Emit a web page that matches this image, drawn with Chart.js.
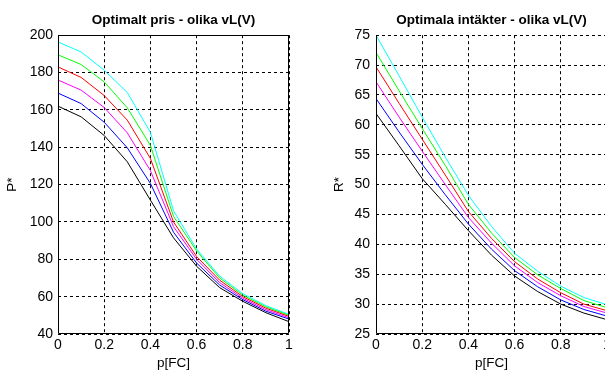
<!DOCTYPE html>
<html>
<head>
<meta charset="utf-8">
<script src="https://cdn.jsdelivr.net/npm/chart.js@4"></script>
<style>
  body { margin: 0; background: #fff; overflow: hidden; width: 605px; height: 371px; position: relative; }
  canvas { position: absolute; top: 0; }
</style>
</head>
<body>
<canvas id="pris" width="300" height="371" style="left:0px"></canvas>
<canvas id="intakt" width="320" height="371" style="left:300px"></canvas>
<script>
// p[FC] values
const pfc = [0, 0.1, 0.2, 0.3, 0.4, 0.5, 0.6, 0.7, 0.8, 0.9, 1.0];

// Optimalt pris P*, one curve per vL(V)
const prisBlack   = [162, 156.3, 146.3, 132.2, 111.7, 91.5, 76.3, 64.8, 57.5, 51.4, 46.6];
const prisBlue    = [169, 163.4, 153.4, 139.7, 120.6, 94.5, 78, 66.2, 58.4, 52.2, 48];
const prisMagenta = [176, 170.6, 161.3, 147.7, 127.5, 97.5, 80, 67.5, 59.2, 53, 48.7];
const prisRed     = [183, 177.4, 167.7, 154.5, 134, 100, 81.5, 68.8, 60, 53.8, 49.4];
const prisGreen   = [189.5, 184.3, 175, 161.1, 141, 103, 84.5, 70, 60.8, 54.5, 50];
const prisCyan    = [196.4, 191, 181.3, 169.3, 148, 106, 85.5, 71, 61.6, 55.2, 50.5];

// Optimala intakter R*
const intBlack   = [61.9, 56.5, 51.0, 46.7, 42.3, 38.2, 34.7, 32.1, 30.0, 28.5, 27.4];
const intBlue    = [64.4, 58.8, 53.4, 48.3, 43.4, 39.2, 35.6, 32.9, 30.7, 29.1, 28.0];
const intMagenta = [67.2, 61.3, 55.6, 50.0, 44.5, 40.2, 36.4, 33.6, 31.4, 29.6, 28.5];
const intRed     = [69.7, 63.6, 57.6, 51.6, 45.5, 41.0, 37.1, 34.2, 31.9, 30.0, 28.9];
const intGreen   = [72.1, 65.7, 59.4, 53.2, 46.7, 41.9, 37.8, 34.9, 32.6, 30.6, 29.4];
const intCyan    = [75.0, 68.2, 61.3, 54.6, 48.2, 43.0, 38.5, 35.5, 33.0, 31.1, 29.9];

const colors = ['#000000', '#0000ff', '#ff00ff', '#ff0000', '#00ff00', '#00ffff'];

const FONT = "'Liberation Sans', Arial, sans-serif";

const toPoints = function (ys) {
    return pfc.map((x, i) => ({x: x, y: ys[i]}));
};

// box round the plot area, like matlab "box on"
const boxPlugin = {
    id: 'box',
    afterDraw(chart, args, opts) {
        const a = chart.chartArea;
        const ctx = chart.ctx;
        const l = Math.round(a.left) + 0.5, r = Math.round(a.right) - 0.5;
        const t = Math.round(a.top) + 0.5, b = Math.round(a.bottom) - 0.5;
        ctx.save();
        ctx.setLineDash([]);
        ctx.strokeStyle = '#000';
        ctx.lineWidth = 1;
        ctx.beginPath();
        ctx.moveTo(l, t - 0.5);
        ctx.lineTo(l, b);
        ctx.lineTo(r, b);
        ctx.lineTo(r, opts.top ? t : t - 0.5);
        if (opts.top) ctx.lineTo(l, t);
        ctx.stroke();
        ctx.restore();
    }
};

const makeChart = function (id, title, ylabel, series, ymin, ymax, ystep, o) {
    new Chart(document.getElementById(id), {
        type: 'line',
        data: {
            datasets: series.map((s, i) => ({
                data: toPoints(s),
                borderColor: colors[i],
                borderWidth: 1,
                pointRadius: 0,
                tension: 0,
                fill: false
            }))
        },
        plugins: [boxPlugin],
        options: {
            responsive: false,
            animation: false,
            devicePixelRatio: 1,
            layout: {padding: {left: 0, right: o.padRight, top: 0, bottom: 0}},
            plugins: {
                legend: {display: false},
                tooltip: {enabled: false},
                box: {top: o.top},
                title: {
                    display: true,
                    text: title,
                    fullSize: false,
                    color: '#000',
                    font: {family: FONT, size: 13.5, weight: 'bold'},
                    padding: {top: 12, bottom: 7}
                }
            },
            scales: {
                x: {
                    type: 'linear',
                    min: 0,
                    max: 1,
                    ticks: {stepSize: 0.2, color: '#000', padding: 3,
                        font: {family: FONT, size: 14},
                        callback: v => String(Number(v.toFixed(2)))},
                    grid: {color: '#000', drawTicks: false, lineWidth: 1},
                    border: {display: false, dash: [3, 3]},
                    title: {display: true, text: 'p[FC]', color: '#000',
                        font: {family: FONT, size: 13.5}, padding: 0},
                    afterFit(scale) {
                        scale.height = 37;
                        scale.paddingLeft = 0;
                        scale.paddingRight = 0;
                    }
                },
                y: {
                    min: ymin,
                    max: ymax,
                    ticks: {stepSize: ystep, color: '#000', padding: o.tickPad,
                        font: {family: FONT, size: 14}},
                    grid: {color: '#000', drawTicks: false, lineWidth: 1},
                    border: {display: false, dash: [3, 3]},
                    title: {display: true, text: ylabel, color: '#000',
                        font: {family: FONT, size: 13.5}, padding: {top: o.titlePad, bottom: 0}},
                    afterFit(scale) {
                        scale.width = o.yWidth;
                        scale.paddingTop = 0;
                        scale.paddingBottom = 0;
                    }
                }
            }
        }
    });
};

makeChart('pris', 'Optimalt pris - olika vL(V)', 'P*',
    [prisBlack, prisBlue, prisMagenta, prisRed, prisGreen, prisCyan],
    40, 200, 20, {yWidth: 58, padRight: 11, tickPad: 5, titlePad: 4.4, top: true});

makeChart('intakt', 'Optimala intäkter - olika vL(V)', 'R*',
    [intBlack, intBlue, intMagenta, intRed, intGreen, intCyan],
    25, 75, 5, {yWidth: 76, padRight: 13, tickPad: 6, titlePad: 31, top: false});
</script>
</body>
</html>
